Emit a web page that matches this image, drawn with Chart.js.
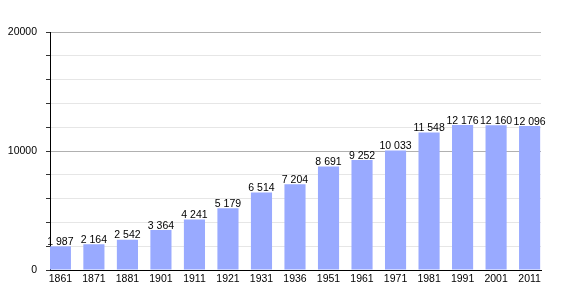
<!DOCTYPE html>
<html>
<head>
<meta charset="utf-8">
<script src="https://cdn.jsdelivr.net/npm/chart.js@4.4.0/dist/chart.umd.min.js"></script>
<style>
  html, body { margin: 0; padding: 0; background: #fff; }
  #wrap { width: 570px; height: 300px; }
</style>
</head>
<body>
<div id="wrap"><canvas id="popChart" width="570" height="300"></canvas></div>
<script>
// data
const years = ['1861', '1871', '1881', '1901', '1911', '1921', '1931', '1936', '1951', '1961', '1971', '1981', '1991', '2001', '2011'];
const population = [1987, 2164, 2542, 3364, 4241, 5179, 6514, 7204, 8691, 9252, 10033, 11548, 12176, 12160, 12096];
const yLabels = [0, 10000, 20000];

const FONT = 'Liberation Sans, Arial, sans-serif';

// 12096 -> "12 096"
function fmt(v) {
  return String(v).replace(/\B(?=(\d{3})+(?!\d))/g, ' ');
}

// value labels above each bar
const barLabels = {
  id: 'barLabels',
  afterDatasetsDraw(chart) {
    const ctx = chart.ctx;
    const meta = chart.getDatasetMeta(0);
    ctx.save();
    ctx.font = '10.5px ' + FONT;
    ctx.fillStyle = '#000';
    ctx.textAlign = 'center';
    ctx.textBaseline = 'bottom';
    meta.data.forEach((bar, i) => {
      ctx.fillText(fmt(population[i]), bar.x, bar.y + 1);
    });
    ctx.restore();
  }
};

new Chart(document.getElementById('popChart'), {
  type: 'bar',
  data: {
    datasets: [{
      data: population.map((v, i) => ({ x: i, y: v })),
      backgroundColor: '#99aaff',
      borderWidth: 0,
      categoryPercentage: 1,
      barPercentage: 0.63
    }]
  },
  options: {
    responsive: false,
    animation: false,
    layout: { padding: { top: 32, right: 29, bottom: 0, left: 0 } },
    plugins: { legend: { display: false }, tooltip: { enabled: false } },
    scales: {
      x: {
        type: 'linear',
        offset: false,
        min: -0.31,
        max: 14.34,
        afterFit(scale) { scale.height = 30; },
        grid: { display: false, drawTicks: false },
        border: { color: '#000', width: 1 },
        ticks: {
          stepSize: 1,
          includeBounds: false,
          autoSkip: false,
          maxRotation: 0,
          padding: 3,
          color: '#000',
          font: { family: FONT, size: 10.5 },
          callback: v => (Number.isInteger(v) ? years[v] : '')
        }
      },
      y: {
        min: 0,
        max: 20000,
        afterFit(scale) { scale.width = 50; },
        grid: {
          color: ctx => (ctx.tick && ctx.tick.value % 10000 === 0 ? '#b0b0b0' : '#e6e6e6'),
          tickColor: '#333',
          tickLength: 4
        },
        border: { color: '#000', width: 1 },
        ticks: {
          stepSize: 2000,
          padding: 9,
          color: '#000',
          font: { family: FONT, size: 10.5 },
          callback: v => (yLabels.includes(v) ? String(v) : '')
        }
      }
    }
  },
  plugins: [barLabels]
});
</script>
</body>
</html>
